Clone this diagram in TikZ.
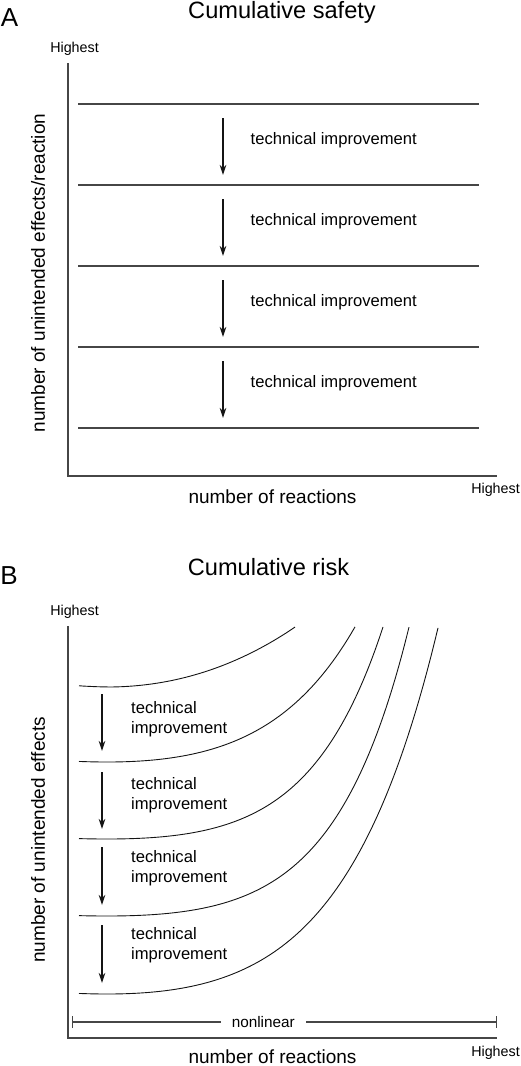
\documentclass[tikz,border=0pt]{standalone}
\usepackage{fontspec}
\setmainfont{Liberation Sans}
\usetikzlibrary{arrows.meta}
\definecolor{axisgray}{RGB}{70,70,70}
\definecolor{inkblack}{RGB}{20,20,20}

\begin{document}
\begin{tikzpicture}[
    x=1pt, y=-1pt,
    axisline/.style={draw=axisgray, line width=1.1pt},
    levelline/.style={draw=axisgray, line width=1.4pt},
    riskcurve/.style={draw=inkblack, line width=0.9pt},
    improve/.style={-{Stealth[length=10pt,width=6.5pt]}, line width=1.1pt, color=inkblack},
    paneltag/.style={inner sep=0pt, font=\fontsize{26}{30}\selectfont},
    heading/.style={inner sep=0pt, font=\fontsize{23.6}{28}\selectfont},
    axistitle/.style={inner sep=0pt, font=\fontsize{19}{22}\selectfont},
    extreme/.style={inner sep=0pt, font=\fontsize{14.3}{16}\selectfont},
    techlabel/.style={inner sep=0pt, anchor=west, align=left, font=\fontsize{16.6}{20}\selectfont}
]
\useasboundingbox (0,0) rectangle (520,1066);

% panel A: cumulative safety
\node[paneltag] (tagA) at (9.5,17.5) {A};
\node[heading] (headA) at (282,12.5) {Cumulative safety};
\coordinate (Atop) at (68,63);
\coordinate (Aend) at (497,476);
\draw[axisline] (Atop) |- (Aend);
\node[extreme] (hiAy) at (74.5,49) {Highest};
\node[extreme] (hiAx) at (495.5,489.5) {Highest};
\node[axistitle] (xlabA) at (272.5,497) {number of reactions};
\node[axistitle, rotate=90] (ylabA) at (38,273) {number of unintended effects/reaction};

\foreach \y [count=\i] in {104,185,266,347,428} {
  \coordinate (lvw\i) at (78,\y);
  \coordinate (lve\i) at (479,\y);
  \draw[levelline] (lvw\i) -- (lve\i);
}
\foreach \y [count=\i] in {104,185,266,347} {
  \coordinate (upA\i) at (223,{\y+14});
  \coordinate (dnA\i) at (223,{\y+71});
  \draw[improve] (upA\i) -- (dnA\i);
  \node[techlabel] (tiA\i) at (250.5,{\y+36}) {technical improvement};
}

% panel B: cumulative risk
\node[paneltag] (tagB) at (9,576) {B};
\node[heading] (headB) at (268.5,567) {Cumulative risk};
\coordinate (Btop) at (68,626);
\coordinate (Bend) at (497,1038);
\draw[axisline] (Btop) |- (Bend);
\node[extreme] (hiBy) at (74.5,612) {Highest};
\node[extreme] (hiBx) at (495.5,1052.5) {Highest};
\node[axistitle] (xlabB) at (272.5,1057) {number of reactions};
\node[axistitle, rotate=90] (ylabB) at (38,840) {number of unintended effects};

% curves: lowest point, growth rate, scale, right end
\foreach \ymin/\b/\A/\xend in {687/0.002/746/295, 762/0.01/16.0/355, 839/0.013/6.715/383, 916/0.013/6.31/409, 994/0.01/15.9/438}
  \draw[riskcurve] plot[domain=79:\xend, samples=90, smooth]
    (\x, {\ymin - \A*(exp(\b*(\x-107)) - 1 - \b*(\x-107))});

\foreach \a/\b [count=\i] in {694/751,772/829,847/905,925/983} {
  \coordinate (upB\i) at (102,\a);
  \coordinate (dnB\i) at (102,\b);
  \draw[improve] (upB\i) -- (dnB\i);
}
\foreach \y [count=\i] in {719,795,868,945}
  \node[techlabel] (tiB\i) at (131,\y) {technical\\improvement};

\coordinate (nlW) at (72,1022);
\coordinate (nlE) at (497,1022);
\draw[axisline, {Bar[width=12pt]}-{Bar[width=12pt]}] (nlW) -- node[pos=0.45, fill=white, inner xsep=11pt, inner ysep=1pt, font=\fontsize{15.3}{18}\selectfont] (nltext) {nonlinear} (nlE);

\end{tikzpicture}
\end{document}
